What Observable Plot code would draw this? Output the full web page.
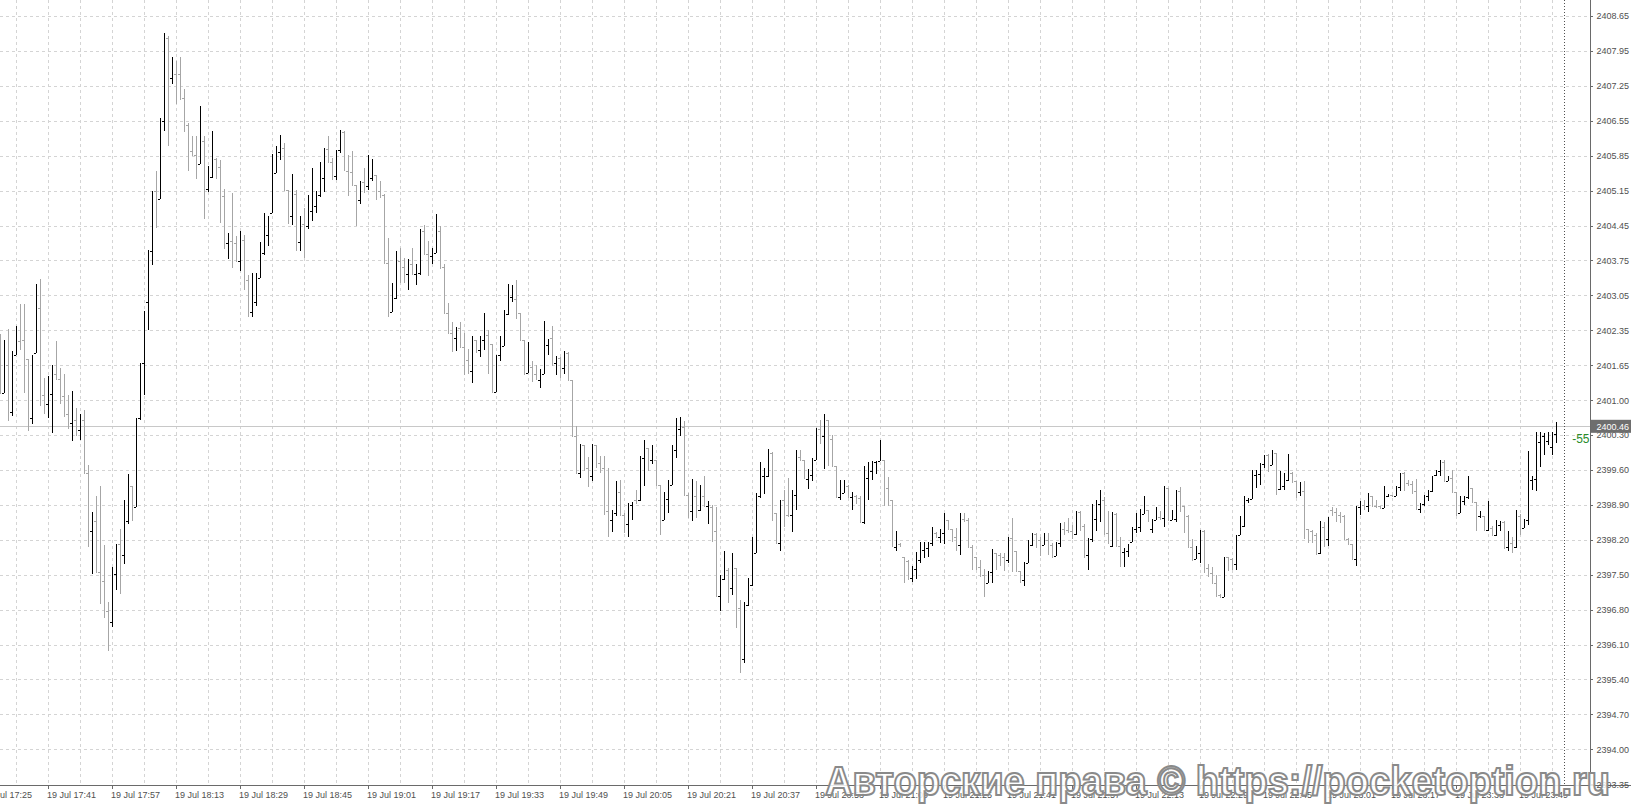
<!DOCTYPE html>
<html><head><meta charset="utf-8">
<script src="https://cdn.jsdelivr.net/npm/d3@7"></script>
<script src="https://cdn.jsdelivr.net/npm/@observablehq/plot@0.6"></script>
<style>
html,body{margin:0;padding:0;background:#fff;overflow:hidden}
#chart{position:relative;width:1631px;height:808px}
</style></head><body><div id="chart"></div>
<script>
// one-minute bars, 19 Jul 17:29 ... 23:58 (bar index 0 = 17:30)
const firstBarIndex = -1;
const opens = [
2401.90,2401.12,2401.69,2400.75,2401.88,2402.16,2402.19,2401.80,2400.62,2401.92,
2402.83,2401.09,2400.90,2401.10,2401.50,2401.41,2401.06,2400.70,2400.53,2400.59,
2400.39,2400.59,2399.53,2398.37,2398.56,2397.56,2397.38,2396.77,2396.56,2397.52,
2398.11,2397.89,2398.56,2399.27,2398.85,2400.62,2401.72,2402.94,2403.96,2405.15,
2404.99,2406.56,2408.21,2407.42,2407.50,2407.49,2407.02,2406.48,2405.96,2405.88,
2405.70,2406.15,2405.20,2405.44,2405.80,2405.64,2405.06,2404.12,2404.15,2404.11,
2403.75,2404.17,2403.39,2402.75,2402.95,2403.42,2403.92,2404.27,2404.71,2405.52,
2405.94,2406.02,2405.17,2404.65,2405.10,2404.13,2404.50,2404.45,2404.75,2404.85,
2405.08,2405.42,2406.00,2405.73,2405.46,2405.97,2406.33,2405.55,2405.53,2405.28,
2404.98,2405.33,2405.26,2405.42,2405.48,2405.15,2405.07,2403.73,2402.75,2403.02,
2403.75,2403.65,2403.51,2403.71,2403.50,2403.52,2404.35,2403.89,2403.85,2403.92,
2404.35,2403.64,2402.72,2402.33,2402.22,2402.42,2402.05,2401.79,2401.56,2402.19,
2401.98,2402.18,2402.29,2402.11,2401.14,2401.89,2402.07,2402.71,2403.04,2403.01,
2402.73,2402.18,2401.52,2401.64,2401.51,2401.39,2401.51,2402.09,2402.22,2401.72,
2401.82,2401.62,2401.92,2401.38,2400.27,2399.53,2400.09,2399.62,2399.46,2400.09,
2399.73,2399.63,2398.76,2398.58,2398.73,2399.14,2398.69,2398.51,2398.89,2398.99,
2398.98,2399.82,2400.02,2399.79,2399.79,2399.29,2398.58,2399.00,2399.29,2399.99,
2400.40,2400.45,2399.09,2398.76,2399.06,2398.78,2399.06,2398.87,2398.85,2398.38,
2397.08,2397.41,2397.60,2397.23,2397.63,2396.83,2395.81,2396.90,2397.30,2397.93,
2399.07,2399.47,2399.46,2399.93,2398.73,2398.14,2398.98,2398.69,2398.69,2399.09,
2399.85,2399.78,2399.41,2399.49,2399.79,2400.41,2400.26,2400.58,2400.20,2399.67,
2399.05,2399.13,2399.26,2399.05,2399.07,2399.03,2398.54,2399.43,2399.56,2399.74,
2399.76,2399.79,2399.23,2398.98,2398.05,2398.12,2397.85,2397.78,2397.43,2397.61,
2397.80,2397.99,2398.03,2398.14,2398.33,2398.26,2398.34,2398.58,2398.41,2398.26,
2398.09,2398.61,2398.59,2398.06,2397.85,2397.65,2397.50,2397.33,2397.56,2397.94,
2397.89,2397.85,2397.80,2398.23,2397.98,2397.58,2397.40,2397.74,2398.09,2398.31,
2398.19,2398.09,2398.19,2398.09,2397.87,2398.14,2398.41,2398.40,2398.38,2398.31,
2398.74,2398.47,2397.89,2398.21,2398.61,2398.91,2398.98,2398.33,2398.08,2398.71,
2398.08,2397.96,2397.98,2398.16,2398.41,2398.45,2398.71,2398.78,2398.41,2398.59,
2398.65,2398.63,2399.23,2398.58,2398.61,2399.16,2398.86,2398.67,2398.06,2397.81,
2397.94,2398.38,2397.63,2397.54,2397.33,2397.10,2397.06,2397.85,2397.81,2397.72,
2398.29,2398.47,2398.98,2399.01,2399.49,2399.51,2399.71,2399.89,2399.69,2399.93,
2399.21,2399.26,2399.39,2399.53,2399.36,2399.14,2399.16,2398.41,2398.38,2398.29,
2397.93,2398.46,2398.21,2398.79,2398.74,2398.69,2398.67,2398.21,2398.11,2397.81,
2398.85,2398.89,2398.87,2399.06,2398.87,2398.86,2398.83,2399.07,2399.09,2399.06,
2399.25,2399.53,2399.33,2399.31,2399.16,2398.81,2398.91,2399.07,2399.16,2399.49,
2399.56,2399.74,2399.36,2399.43,2399.14,2398.73,2398.96,2399.05,2399.23,2398.94,
2398.66,2398.66,2398.39,2398.43,2398.29,2398.50,2398.54,2398.06,2398.14,2398.06,
2398.67,2398.43,2398.59,2399.38,2399.41,2400.14,2400.26,2400.16,2400.05,2400.30];
const highs = [
2402.30,2402.18,2402.41,2401.96,2402.47,2402.90,2402.90,2401.81,2401.89,2403.30,
2403.41,2401.43,2401.47,2401.69,2402.16,2401.63,2401.50,2401.09,2401.16,2400.82,
2400.70,2400.79,2399.68,2398.74,2399.07,2399.27,2398.09,2396.95,2397.66,2398.11,
2398.41,2398.99,2399.50,2399.27,2400.63,2401.73,2402.77,2403.97,2405.15,2405.56,
2406.62,2408.32,2408.25,2407.84,2407.75,2407.84,2407.20,2406.52,2406.25,2406.26,
2406.86,2406.26,2405.66,2406.35,2405.82,2405.78,2405.20,2404.31,2405.12,2404.25,
2404.35,2404.28,2403.49,2403.52,2403.52,2404.13,2404.71,2404.65,2405.90,2406.05,
2406.28,2406.12,2405.17,2405.50,2405.18,2404.65,2404.82,2405.08,2405.62,2405.15,
2405.73,2406.02,2406.25,2405.82,2405.98,2406.38,2406.35,2405.88,2405.95,2405.28,
2405.36,2405.62,2405.88,2405.80,2405.48,2405.36,2405.10,2404.22,2403.32,2403.95,
2404.02,2403.82,2403.79,2404.02,2403.71,2404.39,2404.47,2404.15,2404.02,2404.69,
2404.45,2403.71,2402.92,2402.55,2402.45,2402.55,2402.32,2402.00,2402.27,2402.19,
2402.26,2402.73,2402.39,2402.11,2401.89,2402.27,2402.79,2403.31,2403.29,2403.39,
2402.73,2402.18,2402.14,2401.76,2401.69,2401.60,2402.56,2402.20,2402.46,2401.86,
2401.84,2401.96,2401.94,2401.38,2400.46,2400.11,2400.09,2399.85,2400.11,2400.09,
2399.87,2399.86,2399.63,2398.78,2399.36,2399.38,2398.73,2398.93,2398.94,2399.18,
2399.87,2400.19,2400.02,2400.09,2399.79,2399.29,2399.14,2399.39,2400.09,2400.62,
2400.64,2400.56,2399.13,2399.41,2399.36,2399.29,2399.46,2398.96,2398.89,2398.85,
2397.49,2397.98,2397.63,2397.93,2397.63,2396.99,2396.96,2397.43,2398.26,2399.13,
2399.74,2399.63,2400.01,2399.94,2398.73,2398.98,2399.18,2399.43,2399.18,2399.99,
2399.99,2399.79,2399.61,2399.83,2400.42,2400.58,2400.71,2400.58,2400.29,2399.67,
2399.38,2399.38,2399.29,2399.14,2399.09,2399.07,2399.67,2399.74,2399.77,2399.77,
2400.18,2399.79,2399.45,2398.98,2398.37,2398.14,2397.85,2397.80,2397.68,2397.96,
2398.16,2398.16,2398.16,2398.46,2398.36,2398.41,2398.73,2398.59,2398.41,2398.43,
2398.73,2398.73,2398.63,2398.09,2397.86,2397.80,2397.61,2397.58,2398.01,2397.94,
2397.93,2397.94,2398.25,2398.63,2397.98,2397.58,2397.76,2398.19,2398.34,2398.34,
2398.25,2398.34,2398.34,2398.14,2398.16,2398.53,2398.54,2398.63,2398.49,2398.76,
2398.76,2398.51,2398.23,2398.91,2398.99,2399.18,2399.05,2398.76,2398.74,2398.72,
2398.26,2398.03,2398.11,2398.45,2398.73,2398.81,2399.06,2398.79,2398.61,2398.85,
2398.76,2399.26,2399.23,2398.78,2399.18,2399.25,2398.87,2398.68,2398.21,2398.07,
2398.39,2398.39,2397.71,2397.66,2397.50,2397.12,2397.86,2397.85,2397.83,2398.29,
2398.66,2399.06,2399.03,2399.59,2399.59,2399.73,2399.89,2399.91,2399.99,2399.93,
2399.56,2399.53,2399.91,2399.54,2399.36,2399.34,2399.36,2398.41,2398.39,2398.34,
2398.56,2398.54,2398.65,2398.85,2398.83,2398.74,2398.69,2398.23,2398.11,2398.86,
2398.96,2398.99,2399.13,2399.07,2398.98,2398.87,2399.26,2399.11,2399.09,2399.26,
2399.53,2399.54,2399.39,2399.36,2399.41,2398.93,2399.09,2399.18,2399.47,2399.58,
2399.78,2399.78,2399.47,2399.59,2399.14,2399.07,2399.07,2399.46,2399.23,2398.94,
2398.76,2398.66,2398.96,2398.47,2398.59,2398.56,2398.56,2398.38,2398.26,2398.78,
2398.71,2398.61,2399.96,2399.46,2400.34,2400.34,2400.32,2400.34,2400.34,2400.54];
const lows = [
2401.10,2401.12,2400.56,2400.66,2401.88,2401.98,2401.12,2400.36,2400.51,2401.92,
2400.86,2400.70,2400.62,2400.33,2401.39,2400.90,2400.64,2400.40,2400.17,2400.27,
2400.18,2399.52,2398.05,2397.52,2397.56,2396.91,2396.66,2395.97,2396.46,2397.19,
2397.11,2397.72,2398.52,2398.56,2398.85,2400.59,2401.08,2402.38,2403.69,2404.41,
2404.99,2406.36,2406.05,2407.30,2406.89,2406.98,2406.33,2405.55,2405.85,2405.40,
2405.70,2404.59,2405.13,2405.42,2405.39,2404.52,2403.99,2403.79,2403.62,2403.75,
2403.57,2403.19,2402.65,2402.64,2402.87,2403.42,2403.87,2404.05,2404.71,2405.52,
2405.77,2405.17,2404.49,2404.47,2403.95,2403.95,2403.82,2404.39,2404.55,2404.71,
2405.04,2405.13,2405.72,2405.37,2405.38,2405.92,2405.58,2405.05,2405.25,2404.45,
2404.89,2405.12,2405.18,2405.35,2404.97,2405.02,2403.73,2402.64,2402.75,2403.00,
2403.32,2403.32,2403.19,2403.51,2403.29,2403.49,2403.87,2403.47,2403.71,2403.92,
2403.60,2402.71,2402.32,2401.94,2401.96,2402.02,2401.49,2401.51,2401.32,2401.92,
2401.84,2401.99,2401.51,2401.14,2401.14,2401.76,2402.06,2402.69,2402.95,2402.60,
2402.18,2401.49,2401.52,2401.34,2401.39,2401.22,2401.51,2401.89,2401.66,2401.49,
2401.42,2401.51,2401.36,2400.26,2399.53,2399.43,2399.56,2399.25,2399.36,2399.63,
2399.53,2398.69,2398.26,2398.36,2398.66,2398.67,2398.33,2398.25,2398.58,2398.91,
2398.96,2399.27,2399.56,2399.71,2399.29,2398.29,2398.58,2398.73,2399.29,2399.82,
2400.26,2399.09,2398.63,2398.56,2398.63,2398.76,2398.86,2398.51,2398.16,2397.06,
2396.78,2397.40,2396.93,2397.10,2396.43,2395.54,2395.74,2396.88,2397.28,2397.93,
2399.03,2399.11,2399.45,2398.56,2398.12,2397.98,2398.46,2398.65,2398.36,2398.78,
2399.78,2399.43,2399.21,2399.36,2399.79,2400.11,2399.61,2399.67,2399.67,2399.05,
2398.99,2399.13,2399.05,2398.79,2398.91,2398.53,2398.51,2398.99,2399.39,2399.51,
2399.76,2398.86,2398.86,2398.06,2397.97,2398.05,2397.33,2397.40,2397.36,2397.42,
2397.74,2397.83,2397.85,2398.07,2398.23,2398.13,2398.11,2398.39,2398.16,2397.98,
2397.90,2398.54,2398.06,2397.59,2397.59,2397.46,2397.05,2397.33,2397.33,2397.59,
2397.68,2397.58,2397.74,2397.56,2397.56,2397.33,2397.28,2397.74,2398.07,2398.03,
2397.87,2398.09,2397.89,2397.83,2397.87,2398.06,2398.29,2398.34,2398.21,2398.29,
2398.38,2397.85,2397.60,2398.16,2398.37,2398.54,2398.29,2398.12,2398.06,2398.08,
2397.65,2397.66,2397.85,2398.16,2398.34,2398.36,2398.71,2398.54,2398.34,2398.58,
2398.58,2398.45,2398.56,2398.58,2398.54,2398.74,2398.34,2398.05,2397.78,2397.81,
2397.73,2397.54,2397.46,2397.32,2397.06,2397.03,2397.05,2397.58,2397.60,2397.60,
2398.29,2398.45,2398.93,2399.00,2399.23,2399.29,2399.63,2399.54,2399.69,2399.09,
2399.19,2399.18,2399.36,2399.33,2399.03,2399.07,2398.21,2398.13,2398.13,2397.90,
2397.92,2398.05,2398.08,2398.67,2398.54,2398.53,2398.19,2398.09,2397.79,2397.68,
2398.69,2398.79,2398.74,2398.86,2398.83,2398.81,2398.83,2399.05,2399.05,2399.06,
2399.16,2399.16,2399.27,2399.11,2398.79,2398.73,2398.86,2398.96,2399.14,2399.47,
2399.47,2399.34,2399.36,2399.13,2398.67,2398.73,2398.89,2399.01,2398.93,2398.38,
2398.63,2398.38,2398.38,2398.27,2398.27,2398.38,2398.01,2397.98,2397.94,2398.03,
2398.29,2398.43,2398.49,2399.18,2399.16,2399.65,2399.89,2400.09,2399.89,2400.13];
const closes = [
2401.23,2401.72,2400.75,2401.85,2402.11,2402.12,2401.81,2400.62,2401.89,2402.82,
2401.09,2400.90,2401.06,2401.58,2401.41,2400.98,2400.70,2400.57,2400.59,2400.39,
2400.55,2399.53,2398.37,2398.40,2397.56,2397.38,2396.66,2396.62,2397.56,2398.11,
2397.89,2398.56,2399.27,2398.80,2400.57,2401.72,2402.77,2403.97,2405.15,2404.99,
2406.48,2408.21,2407.40,2407.50,2407.49,2407.02,2406.52,2406.05,2405.88,2405.68,
2406.15,2405.20,2405.48,2405.80,2405.64,2405.06,2404.12,2404.15,2404.11,2403.75,
2404.17,2403.39,2402.75,2402.95,2403.39,2403.92,2404.27,2404.64,2405.52,2405.94,
2406.02,2405.17,2404.64,2405.10,2404.13,2404.50,2404.45,2404.75,2404.85,2405.08,
2405.42,2406.00,2405.73,2405.44,2405.97,2406.33,2405.58,2405.53,2405.30,2404.92,
2405.33,2405.25,2405.42,2405.48,2405.15,2405.07,2403.73,2402.73,2403.00,2403.75,
2403.65,2403.51,2403.72,2403.51,2403.55,2404.35,2403.89,2403.85,2403.92,2404.29,
2403.64,2402.72,2402.33,2402.22,2402.42,2402.05,2401.79,2401.56,2402.19,2401.98,
2402.16,2402.29,2402.11,2401.14,2401.89,2402.07,2402.64,2403.04,2403.08,2402.73,
2402.19,2401.51,2401.64,2401.51,2401.42,2401.56,2402.14,2402.19,2401.72,2401.76,
2401.62,2401.89,2401.38,2400.26,2399.53,2400.09,2399.58,2399.43,2400.09,2399.73,
2399.63,2398.76,2398.58,2398.60,2399.14,2398.69,2398.51,2398.89,2398.91,2398.93,
2399.86,2400.02,2399.79,2399.80,2399.29,2398.58,2399.00,2399.29,2399.99,2400.40,
2400.42,2399.09,2398.76,2399.06,2398.78,2399.06,2398.87,2398.95,2398.38,2397.08,
2397.16,2397.60,2397.23,2397.63,2396.83,2395.83,2396.90,2397.30,2397.93,2399.07,
2399.47,2399.56,2399.93,2398.73,2398.14,2398.96,2398.65,2398.66,2399.09,2399.85,
2399.78,2399.43,2399.49,2399.79,2400.41,2400.20,2400.58,2400.16,2399.67,2399.05,
2399.07,2399.26,2399.05,2399.07,2399.03,2398.54,2399.43,2399.56,2399.74,2399.76,
2399.96,2399.23,2398.98,2398.09,2398.12,2398.08,2397.40,2397.43,2397.61,2397.94,
2397.99,2398.03,2398.14,2398.33,2398.26,2398.34,2398.58,2398.41,2398.26,2398.06,
2398.61,2398.59,2398.06,2397.85,2397.65,2397.50,2397.33,2397.56,2397.94,2397.89,
2397.81,2397.80,2398.23,2397.98,2397.58,2397.40,2397.74,2398.09,2398.31,2398.19,
2398.09,2398.19,2398.09,2397.87,2398.14,2398.41,2398.39,2398.38,2398.31,2398.74,
2398.47,2397.86,2398.21,2398.66,2398.91,2398.98,2398.33,2398.13,2398.71,2398.08,
2397.96,2397.98,2398.09,2398.41,2398.45,2398.71,2398.78,2398.58,2398.59,2398.65,
2398.63,2399.23,2398.58,2398.76,2399.16,2398.86,2398.67,2398.06,2397.81,2397.94,
2398.38,2397.63,2397.54,2397.33,2397.10,2397.06,2397.85,2397.81,2397.72,2398.20,
2398.49,2399.03,2399.00,2399.53,2399.53,2399.71,2399.89,2399.69,2399.93,2399.21,
2399.26,2399.39,2399.53,2399.36,2399.14,2399.16,2398.41,2398.38,2398.29,2397.93,
2398.46,2398.21,2398.65,2398.74,2398.69,2398.67,2398.21,2398.11,2397.81,2398.85,
2398.89,2398.87,2399.06,2398.87,2398.86,2398.83,2399.16,2399.09,2399.06,2399.25,
2399.53,2399.33,2399.31,2399.16,2398.81,2398.91,2399.07,2399.09,2399.46,2399.56,
2399.74,2399.36,2399.43,2399.14,2398.69,2398.96,2399.05,2399.23,2398.94,2398.41,
2398.67,2398.39,2398.43,2398.29,2398.54,2398.54,2398.06,2398.14,2398.06,2398.67,
2398.43,2398.59,2399.56,2399.41,2400.14,2400.26,2400.31,2400.25,2400.30,2400.47];

const xTickLabels = ["19 Jul 17:25","19 Jul 17:41","19 Jul 17:57","19 Jul 18:13","19 Jul 18:29",
  "19 Jul 18:45","19 Jul 19:01","19 Jul 19:17","19 Jul 19:33","19 Jul 19:49","19 Jul 20:05",
  "19 Jul 20:21","19 Jul 20:37","19 Jul 20:53","19 Jul 21:09","19 Jul 21:25","19 Jul 21:41",
  "19 Jul 21:57","19 Jul 22:13","19 Jul 22:29","19 Jul 22:45","19 Jul 23:01","19 Jul 23:17",
  "19 Jul 23:33","19 Jul 23:49"];
const xTickFirstBar = -5, xTickEvery = 16, xGridFirstBar = 3, xGridEvery = 8;
const yTickLabels = ["2408.65","2407.95","2407.25","2406.55","2405.85","2405.15","2404.45",
  "2403.75","2403.05","2402.35","2401.65","2401.00","2400.30","2399.60","2398.90","2398.20",
  "2397.50","2396.80","2396.10","2395.40","2394.70","2394.00","2393.35"];
const yTickTop = 2408.65, yTickStep = 0.697;
const bidPrice = 2400.46, bidLabel = "2400.46", spreadLabel = "-55";
const daySeparatorBar = 390;
const watermark = "Авторские права © https://pocketoption.ru";

const bars = opens.map((o, i) => ({k: i + firstBarIndex, o, h: highs[i], l: lows[i], c: closes[i]}))
  .map(d => ({...d, hi: Math.max(d.h, d.o, d.c), lo: Math.min(d.l, d.o, d.c)}));
const up = bars.filter(d => d.c >= d.o), down = bars.filter(d => d.c < d.o);
const yTicks = yTickLabels.map((s, i) => yTickTop - i * yTickStep);
const xTicks = xTickLabels.map((s, i) => xTickFirstBar + i * xTickEvery);
const xGrid = d3.range(xGridFirstBar, 392, xGridEvery);

const xDomain = [-0.875, 396.625];
const yDomain = [2393.30, 2408.97];
const GRID = "#d4d4d4", DOWN = "#a6a6a6", UP = "#000000", AXIS = "#6a6a6a", TXT = "#505050";
const tick = 0.375;

function barMarks(data, color) {
  return [
    Plot.ruleX(data, {x: "k", y1: "lo", y2: "hi", stroke: color, strokeWidth: 1, shapeRendering: "crispEdges"}),
    Plot.ruleY(data, {y: "o", x1: d => d.k - tick, x2: "k", stroke: color, strokeWidth: 1, shapeRendering: "crispEdges"}),
    Plot.ruleY(data, {y: "c", x1: "k", x2: d => d.k + tick, stroke: color, strokeWidth: 1, shapeRendering: "crispEdges"})
  ];
}

const chart = Plot.plot({
  width: 1631, height: 808,
  marginLeft: 0, marginRight: 41, marginTop: 0, marginBottom: 23,
  x: {domain: xDomain, axis: null},
  y: {domain: yDomain, axis: null},
  style: {fontFamily: "'Liberation Sans', Arial, sans-serif", background: "#ffffff"},
  marks: [
    Plot.ruleY(yTicks.slice(0, -1), {stroke: GRID, strokeDasharray: "3,3", shapeRendering: "crispEdges"}),
    Plot.ruleX(xGrid, {stroke: GRID, strokeDasharray: "3,3", shapeRendering: "crispEdges"}),
    Plot.ruleY([bidPrice], {stroke: "#c8c8c8", shapeRendering: "crispEdges"}),
    Plot.ruleX([daySeparatorBar], {stroke: "#505050", strokeDasharray: "1,2", shapeRendering: "crispEdges"}),
    ...barMarks(down, DOWN),
    ...barMarks(up, UP),
    // axes frame
    Plot.ruleX([xDomain[1]], {stroke: AXIS, shapeRendering: "crispEdges"}),
    Plot.ruleY([yDomain[0]], {x1: xDomain[0], x2: xDomain[1] + 10.25, stroke: AXIS, shapeRendering: "crispEdges"}),
    // y ticks and labels
    Plot.ruleY(yTicks, {x1: xDomain[1], x2: xDomain[1] + 0.75, stroke: AXIS, shapeRendering: "crispEdges"}),
    Plot.text(yTicks, {x: xDomain[1], y: d => d, text: (d, i) => yTickLabels[i], dx: 6, textAnchor: "start", fontSize: 9, fill: TXT}),
    // x ticks and labels
    Plot.ruleX(xTicks, {y1: yDomain[0], y2: yDomain[0] - 0.07, stroke: AXIS, shapeRendering: "crispEdges"}),
    Plot.text(xTicks, {x: d => d, y: yDomain[0], text: (d, i) => xTickLabels[i], dx: -1, dy: 10, textAnchor: "start", fontSize: 9, fill: TXT}),
    // bid price label
    Plot.rect([bidPrice], {x1: xDomain[1] + 0.25, x2: xDomain[1] + 10.25, y1: d => d - 0.13, y2: d => d + 0.13, fill: "#6e6e6e"}),
    Plot.text([bidPrice], {x: xDomain[1], y: d => d, text: [bidLabel], dx: 6, textAnchor: "start", fontSize: 9, fill: "#ffffff"}),
    Plot.text([bidPrice], {x: xDomain[1], y: d => d, text: [spreadLabel], dx: -1, dy: 12.5, textAnchor: "end", fontSize: 12, fill: "#2a8c2a"})
  ]
});
document.getElementById("chart").appendChild(chart);

d3.select(chart).append("text")
  .attr("x", 825).attr("y", 795)
  .attr("text-anchor", "start")
  .attr("textLength", 785).attr("lengthAdjust", "spacingAndGlyphs")
  .attr("font-family", "'Liberation Sans', Arial, sans-serif")
  .attr("font-size", 40).attr("font-weight", "bold")
  .attr("fill", "#ffffff").attr("fill-opacity", 0.85)
  .attr("stroke", "#8a8a8a").attr("stroke-width", 2)
  .text(watermark);
</script>
</body></html>
